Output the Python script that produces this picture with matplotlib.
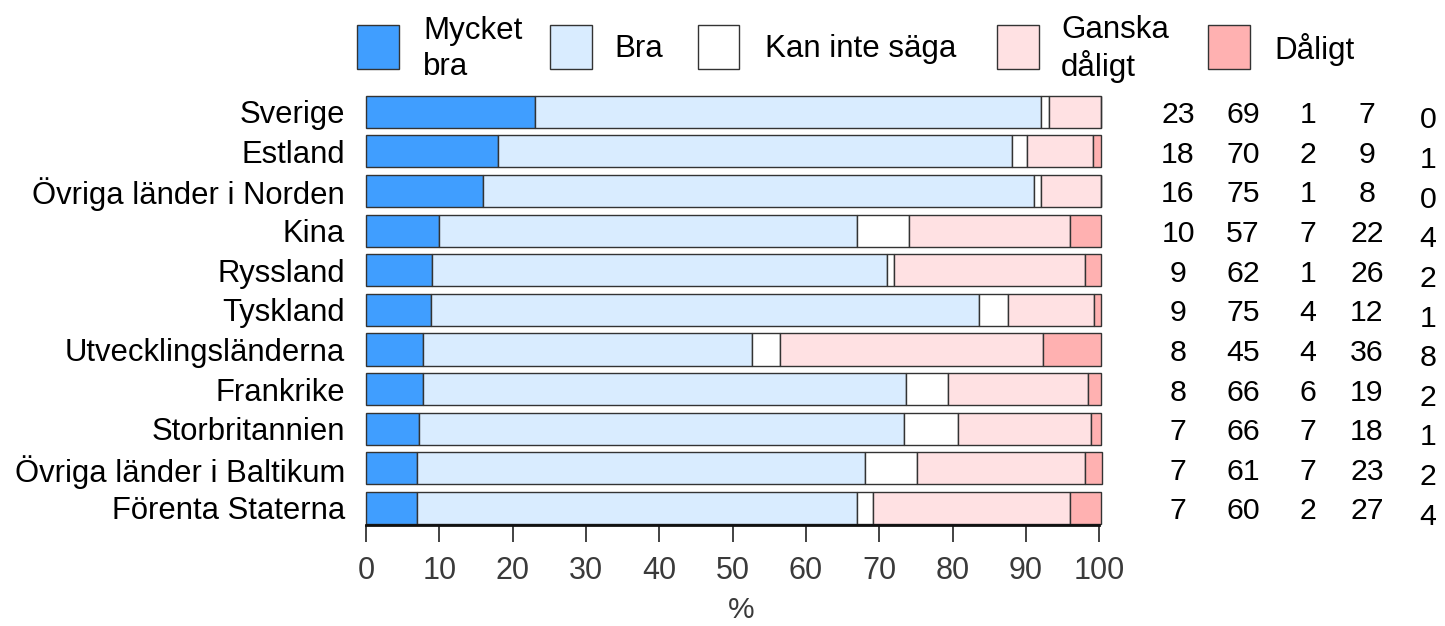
import matplotlib
matplotlib.use("Agg")
import matplotlib.pyplot as plt
from matplotlib.patches import Rectangle
import matplotlib.transforms as mtransforms
import numpy as np

plt.rcParams['font.family'] = ['Liberation Sans', 'DejaVu Sans']

categories = ["Sverige", "Estland", "Övriga länder i Norden", "Kina", "Ryssland",
              "Tyskland", "Utvecklingsländerna", "Frankrike", "Storbritannien",
              "Övriga länder i Baltikum", "Förenta Staterna"]
series_names = ["Mycket\nbra", "Bra", "Kan inte säga", "Ganska\ndåligt", "Dåligt"]

mycket_bra = [23.1, 18.0, 16.0, 10.0, 9.0, 8.8, 7.8, 7.8, 7.2, 7.0, 7.0]
bra        = [69.0, 70.1, 75.1, 57.0, 62.0, 74.8, 44.9, 65.9, 66.2, 61.0, 60.0]
kan_inte   = [1.0, 2.0, 0.9, 7.0, 1.0, 3.9, 3.8, 5.7, 7.3, 7.1, 2.1]
ganska_dal = [7.2, 9.0, 8.3, 22.0, 26.0, 11.8, 35.8, 19.0, 18.1, 23.0, 26.9]
daligt     = [0.0, 1.2, 0.0, 4.3, 2.3, 1.0, 8.0, 1.9, 1.5, 2.3, 4.3]

# rounded values printed at right
lab_mycket_bra = [23, 18, 16, 10, 9, 9, 8, 8, 7, 7, 7]
lab_bra        = [69, 70, 75, 57, 62, 75, 45, 66, 66, 61, 60]
lab_kan_inte   = [1, 2, 1, 7, 1, 4, 4, 6, 7, 7, 2]
lab_ganska_dal = [7, 9, 8, 22, 26, 12, 36, 19, 18, 23, 27]
lab_daligt     = [0, 1, 0, 4, 2, 1, 8, 2, 1, 2, 4]

xticks = [0, 10, 20, 30, 40, 50, 60, 70, 80, 90, 100]
colors = ["#409eff", "#d9ecff", "#ffffff", "#ffe1e3", "#ffb1b1"]

W, H = 1445, 626
fig = plt.figure(figsize=(W / 100, H / 100), dpi=100)
ax = fig.add_axes([366 / W, 1 - 525 / H, (1099.3 - 366) / W, (525 - 88) / H])

series = [mycket_bra, bra, kan_inte, ganska_dal, daligt]
y = np.arange(len(categories))
left = np.zeros(len(categories))
for vals, c in zip(series, colors):
    v = np.array(vals)
    bars = ax.barh(y, v, left=left, height=0.81, color=c, edgecolor="#333333", linewidth=1.0)
    for b in bars:
        b.set_clip_on(False)
    left += v

ax.set_xlim(0, 100)
ax.set_ylim(10.43, -0.6)
ax.set_yticks(y)
ax.set_yticklabels(categories, fontsize=22.3, color="black")
ax.tick_params(axis="y", length=0, pad=15)
ax.set_xticks(xticks)
ax.set_xticklabels([str(t) for t in xticks], fontsize=22, color="#3a3a3a")
ax.tick_params(axis="x", length=12, width=1.2, color="#222222", pad=10.5)
for s in ["top", "left", "right"]:
    ax.spines[s].set_visible(False)
ax.spines["bottom"].set_linewidth(2.0)
ax.spines["bottom"].set_color("#111111")
ax.set_xlabel("%", fontsize=21.5, color="#3a3a3a", va="center")
ax.xaxis.set_label_coords(0.512, (525 - 610) / 437)

# right-hand value columns
tr = mtransforms.blended_transform_factory(fig.transFigure, ax.transData)
labs = [lab_mycket_bra, lab_bra, lab_kan_inte, lab_ganska_dal, lab_daligt]
col_x = [1178, 1243, 1308, 1367, 1428]
col_dy = [0.29, 0.29, 0.29, 0.29, 0.42]
for vals, cx, dy in zip(labs, col_x, col_dy):
    for i, v in enumerate(vals):
        ax.text(cx / W, i + dy, str(v), transform=tr, ha="center", va="baseline",
                fontsize=21.8, color="black", clip_on=False)

# legend
patch_x = [357, 549.5, 697.5, 996.5, 1208]
text_x = [423, 614, 765, 1061, 1274]
for name, c, px, tx in zip(series_names, colors, patch_x, text_x):
    fig.patches.append(Rectangle((px / W, 1 - 68.5 / H), 42 / W, 43 / H,
                                 transform=fig.transFigure, facecolor=c,
                                 edgecolor="#333333", linewidth=1.0))
    fig.text(tx / W, 1 - 49 / H, name, ha="left", va="center", fontsize=22.5,
             color="black", linespacing=1.22)

fig.savefig("out.png", dpi=100)
